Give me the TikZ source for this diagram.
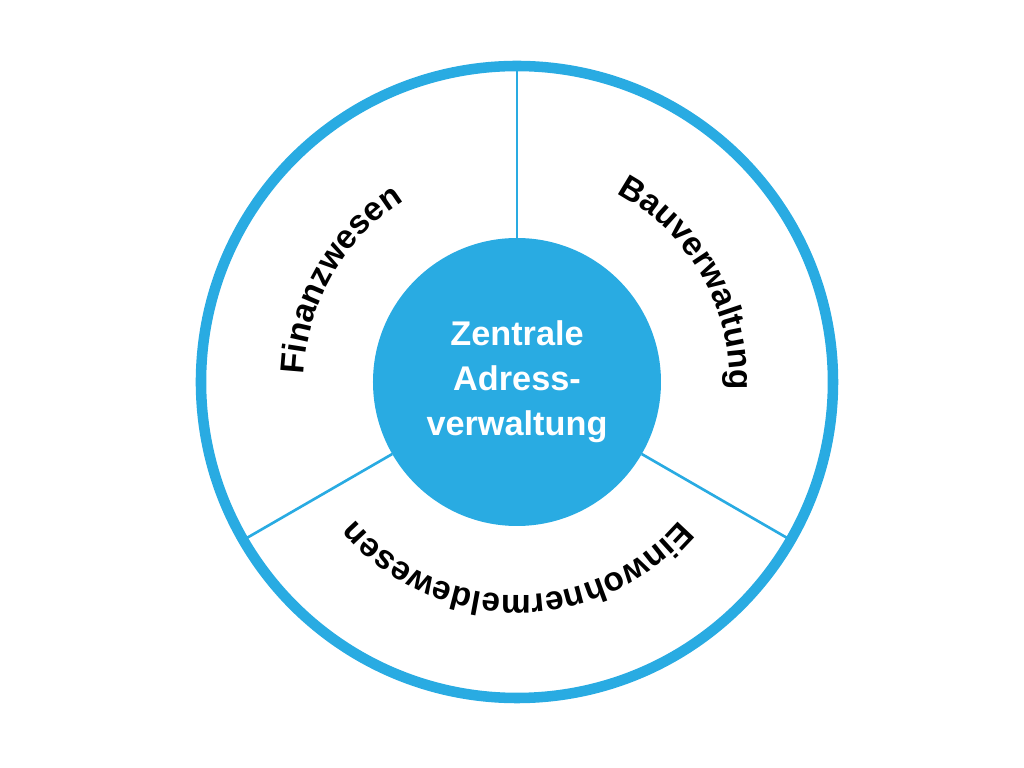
\documentclass[tikz,border=0pt]{standalone}
\usepackage{fontspec}
\setmainfont{Liberation Sans}
\usetikzlibrary{decorations.text}
\definecolor{adrblue}{HTML}{29ABE2}
\newcommand{\arcfont}{\fontsize{19}{23}\selectfont\bfseries}
\tikzset{font=\bfseries,
	arclabel/.style={decorate, decoration={text along path, text align=center, text={|\arcfont|#1}}}}

\begin{document}
\begin{tikzpicture}
	\useasboundingbox (-10.34,-7.72) rectangle (10.14,7.64);
	\tikzstyle{divider}=[draw=adrblue, line width=1.5pt]
	\node[circle, draw=adrblue, line width=6pt, minimum size=12.64cm, outer sep=0pt] (ring) at (0, 0) {};
	\node[circle, fill=adrblue, minimum size=5.76cm, outer sep=0pt, text=white, align=center,
		font=\fontsize{19.5}{25.6}\selectfont\bfseries] (hub) at (0, 0) {Zentrale\\Adress-\\verwaltung};

	\draw [divider] (hub.90) to (ring.90);
	\draw [divider] (hub.-30) to (ring.-30);
	\draw [divider] (hub.-150) to (ring.-150);

	\path [arclabel=Finanzwesen] (210:4.26) arc[start angle=210, end angle=90, radius=4.26];
	\path [arclabel=Bauverwaltung] (90:4.26) arc[start angle=90, end angle=-30, radius=4.26];
	\path [arclabel=Einwohnermeldewesen] (-30:4.26) arc[start angle=-30, end angle=-150, radius=4.26];
\end{tikzpicture}
\end{document}
